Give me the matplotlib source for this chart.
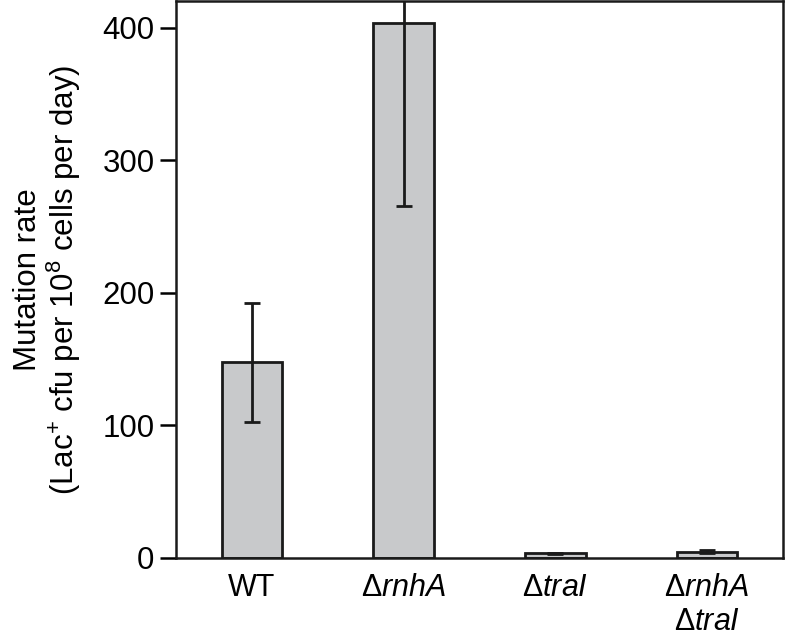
import matplotlib
matplotlib.use("Agg")
import matplotlib.pyplot as plt

plt.rcParams['font.family'] = ['Liberation Sans', 'DejaVu Sans']
plt.rcParams['mathtext.fontset'] = 'custom'
plt.rcParams['mathtext.rm'] = 'Liberation Sans'
plt.rcParams['mathtext.it'] = 'Liberation Sans:italic'
plt.rcParams['mathtext.bf'] = 'Liberation Sans:bold'

categories = ['WT', r'$\Delta\mathit{rnhA}$', r'$\Delta\mathit{traI}$',
              '$\\Delta\\mathit{rnhA}$\n$\\Delta\\mathit{traI}$']
rates = [147.5, 403.5, 3.5, 4.8]
errors = [45.0, 138.0, 0.6, 1.0]
yticks = [0, 100, 200, 300, 400]

fig = plt.figure(figsize=(7.86, 6.39), dpi=100)
ax = fig.add_axes([0.224, 0.1268, 0.772, 0.8712])

x = list(range(len(categories)))
ax.bar(x, rates, width=0.4, color='#c8c9cb', edgecolor='#1a1a1a', linewidth=2.0, zorder=2)
ax.errorbar(x, rates, yerr=errors, fmt='none', ecolor='#1a1a1a', elinewidth=2.0,
            capsize=6, capthick=2.0, zorder=3)

ax.set_xlim(-0.5, 3.5)
ax.set_ylim(0, 420)
ax.set_yticks(yticks)
ax.set_xticks(x)
ax.set_xticklabels(categories, fontsize=22, linespacing=1.18)
ax.tick_params(axis='x', length=0, pad=11)
ax.tick_params(axis='y', length=11.5, width=1.8, labelsize=22.5, pad=4, direction='out')

for s in ax.spines.values():
    s.set_linewidth(1.8)
    s.set_color('#1a1a1a')

ax.set_ylabel('Mutation rate\n(Lac$^{+}$ cfu per 10$^{8}$ cells per day)', fontsize=22.5,
              linespacing=1.05, labelpad=14)

fig.savefig('out.png', dpi=100)
